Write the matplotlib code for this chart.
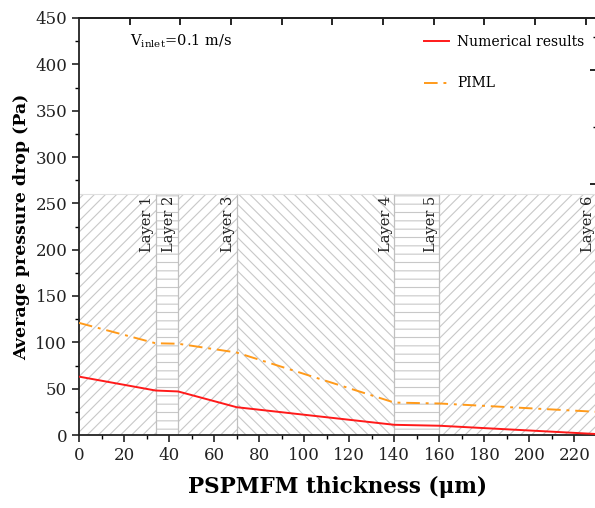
import matplotlib
matplotlib.use("Agg")
import matplotlib.pyplot as plt
from matplotlib.ticker import MultipleLocator, FixedLocator

thickness = [0, 34, 44, 70, 140, 160, 230]
numerical = [63, 48, 47, 30, 11, 10, 1]
piml = [121, 99, 98.5, 89, 35, 34, 25]

layer_bounds = [0, 34, 44, 70, 140, 160, 230]
layer_hatch = ['///', '--', '///', '\\\\\\', '--', '///']
layer_names = ['Layer 1', 'Layer 2', 'Layer 3', 'Layer 4', 'Layer 5', 'Layer 6']
hatch_top = 260

plt.rcParams['font.family'] = ['DejaVu Serif']
plt.rcParams['mathtext.fontset'] = 'dejavuserif'
plt.rcParams['hatch.linewidth'] = 0.8

fig = plt.figure(figsize=(5.95, 5.08), dpi=100)
ax = fig.add_axes([79/595, (508-435)/508, (597-79)/595, (435-18)/508])

for i in range(len(layer_hatch)):
    x0, x1 = layer_bounds[i], layer_bounds[i+1]
    ax.fill_between([x0, x1], 0, hatch_top, facecolor='white', hatch=layer_hatch[i],
                    edgecolor='#c8c8c8', linewidth=0, zorder=1)
for b in layer_bounds[1:-1]:
    ax.plot([b, b], [0, hatch_top], color='#c0c0c0', lw=0.9, zorder=1.5)
ax.plot([0, 230], [hatch_top, hatch_top], color='#e0e0e0', lw=0.8, zorder=1.5)

for b, name in zip(layer_bounds[1:], layer_names):
    ax.text(b - 0.8, hatch_top - 2, name, rotation=90, ha='right', va='top',
            fontsize=10.5, color='#222222', zorder=3)

ax.plot(thickness, numerical, color='#ff1a1a', lw=1.4, label='Numerical results', zorder=4)
ax.plot(thickness, piml, color='#ff9a1a', lw=1.4, linestyle=(0, (7, 3, 1.5, 3)),
        label='PIML', zorder=4)

ax.set_xlim(0, 230)
ax.set_ylim(0, 450)
ax.xaxis.set_major_locator(FixedLocator(list(range(0, 221, 20))))
ax.xaxis.set_minor_locator(MultipleLocator(10))
ax.yaxis.set_major_locator(MultipleLocator(50))
ax.yaxis.set_minor_locator(MultipleLocator(25))
ax.tick_params(axis='both', which='major', direction='out', length=5, width=1.2,
               labelsize=12, colors='#222222')
ax.tick_params(axis='both', which='minor', direction='out', length=3, width=1.0)
for s in ax.spines.values():
    s.set_linewidth(1.3)
    s.set_color('#222222')

axt = ax.secondary_xaxis('top')
axt.set_xticks([22.5 * k for k in range(1, 11)])
axt.tick_params(direction='in', length=5, width=1.2, labeltop=False)
axt.spines['top'].set_linewidth(1.3)

axr = ax.secondary_yaxis('right')
axr.set_yticks([81, 169, 271, 394])
axr.set_yticks([125, 220, 332, 430], minor=True)
axr.tick_params(which='major', direction='in', length=5, width=1.2, labelright=False)
axr.tick_params(which='minor', direction='in', length=3, width=1.0, labelright=False)

ax.set_xlabel('PSPMFM thickness (μm)', fontsize=15.5, fontweight='bold', labelpad=9)
ax.set_ylabel('Average pressure drop (Pa)', fontsize=12.5, fontweight='bold', labelpad=4)

ax.text(22.5, 425, r'V$_{\rm inlet}$=0.1 m/s', fontsize=10.5, ha='left', va='center')

leg = ax.legend(loc='upper right', bbox_to_anchor=(1.0, 0.99), frameon=False, fontsize=10,
                handlelength=1.8, handletextpad=0.6, labelspacing=2.0)

fig.savefig('out.png', dpi=100)
